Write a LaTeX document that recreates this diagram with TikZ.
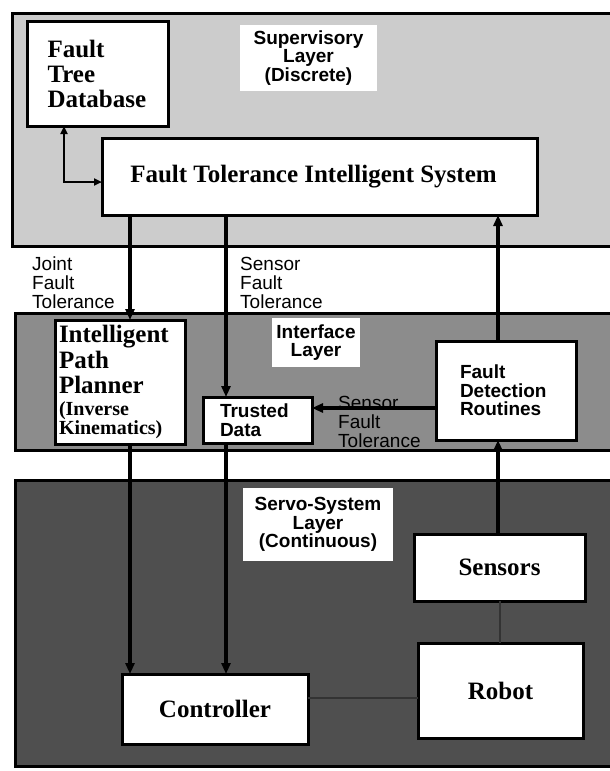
\documentclass[tikz,border=0pt]{standalone}
\usepackage{fontspec}
\setmainfont{Liberation Serif}
\setsansfont{Liberation Sans}
\usetikzlibrary{arrows.meta}

\definecolor{supfill}{gray}{0.80}
\definecolor{intfill}{gray}{0.55}
\definecolor{srvfill}{gray}{0.31}

\tikzset{
  layer/.style={draw=black, line width=3pt},
  box/.style={draw=black, fill=white, line width=3pt, inner sep=0pt, outer sep=0pt},
  serifbox/.style={box, font=\fontsize{25}{25}\selectfont\bfseries},
  sansbox/.style={box, font=\sffamily\bfseries\fontsize{19}{18.5}\selectfont, align=left},
  layertag/.style={fill=white, inner sep=0pt, align=center,
    font=\sffamily\bfseries\fontsize{19}{18.5}\selectfont},
  flowtag/.style={inner sep=0pt, align=left, font=\sffamily\fontsize{19}{19}\selectfont},
  arr/.style={line width=3.2pt, -{Triangle[length=11pt,width=9pt]}},
  biarr/.style={line width=2.4pt, {Triangle[length=8pt,width=7pt]}-{Triangle[length=8pt,width=7pt]}},
  link/.style={line width=1.8pt, draw=black!80},
}

\begin{document}
\begin{tikzpicture}[x=1pt, y=-1pt]
\useasboundingbox (0,0) rectangle (610,771);
\clip (0,0) rectangle (610,771);
\fill[white] (0,0) rectangle (610,771);

% the three layers
\draw[layer, fill=supfill] (12,13) rectangle (640,246);
\draw[layer, fill=intfill] (15,313) rectangle (640,450);
\draw[layer, fill=srvfill] (15,480) rectangle (640,766);

% layer titles
\node[layertag, minimum width=137pt, minimum height=66pt] (suptag) at (308.5,58)
  {Supervisory\\Layer\\(Discrete)};
\node[layertag, minimum width=88pt, minimum height=49pt] (inttag) at (316,342.5)
  {Interface\\Layer};
\node[layertag, minimum width=150pt, minimum height=73pt] (srvtag) at (318,524.5)
  {Servo-System\\Layer\\(Continuous)};

% column guides for the vertical connectors
\coordinate (colA) at (130,0);
\coordinate (colB) at (226,0);
\coordinate (colC) at (498,0);
\coordinate (colS) at (500,0);
\coordinate (rowR) at (0,698);
\coordinate (rowT) at (0,408);

% supervisory layer
\node[serifbox, minimum width=141pt, minimum height=105pt, text width=100pt,
      inner xsep=20.5pt, align=left] (ftdb) at (97.5,73.5)
  {Fault\\Tree\\Database};
\node[serifbox, minimum width=435pt, minimum height=77pt] (ftis) at (319.5,176.5)
  {\hspace*{-12pt}Fault Tolerance Intelligent System};

% interface layer
\node[box, font=\bfseries, minimum width=130pt, minimum height=124pt, text width=122pt,
      inner xsep=4pt, align=left] (ipp) at (120,382)
  {\fontsize{25}{25.5}\selectfont Intelligent\\Path\\Planner\par
   \vspace{3pt}\fontsize{20}{18.5}\selectfont (Inverse\\Kinematics)};
\node[sansbox, minimum width=109pt, minimum height=46pt, text width=75pt,
      inner xsep=17pt] (td) at (257.5,420)
  {Trusted\\Data};
\node[sansbox, minimum width=140pt, minimum height=99pt, text width=92pt,
      inner xsep=24pt] (fdr) at (506,390.5)
  {Fault\\Detection\\Routines};

% servo-system layer
\node[serifbox, minimum width=171pt, minimum height=67pt] (sensors) at (499.5,567.5) {Sensors};
\node[serifbox, minimum width=165pt, minimum height=95pt] (robot) at (500.5,690.5) {Robot};
\node[serifbox, minimum width=186pt, minimum height=70pt] (ctrl) at (215,709) {Controller};

% flow labels
\node[flowtag, anchor=west] (jft) at (32,283) {Joint\\Fault\\Tolerance};
\node[flowtag, anchor=west] (sft) at (240,283) {Sensor\\Fault\\Tolerance};
\node[flowtag, anchor=west] (sft2) at (338,422) {Sensor\\Fault\\Tolerance};

% connectors
\draw[biarr] ([xshift=37pt]ftdb.south west) |- ([yshift=-5.5pt]ftis.west);
\draw[arr] (ftis.south -| colA) -- (ipp.north -| colA);
\draw[arr] (ftis.south -| colB) -- (td.north -| colB);
\draw[arr] (fdr.north -| colC) -- (ftis.south -| colC);
\draw[arr] (fdr.west |- rowT) -- (td.east |- rowT);
\draw[arr] (ipp.south -| colA) -- (ctrl.north -| colA);
\draw[arr] (td.south -| colB) -- (ctrl.north -| colB);
\draw[arr] (sensors.north -| colC) -- (fdr.south -| colC);
\draw[link] (ctrl.east |- rowR) -- (robot.west |- rowR);
\draw[link] (robot.north -| colS) -- (sensors.south -| colS);
\end{tikzpicture}
\end{document}
